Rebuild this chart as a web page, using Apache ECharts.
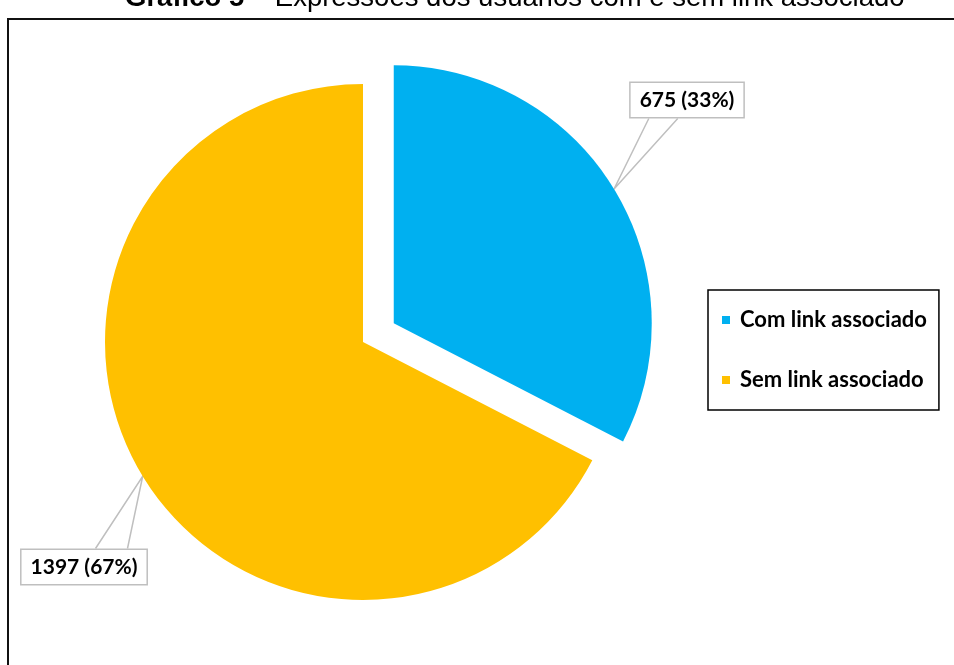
<!DOCTYPE html>
<html><head><meta charset="utf-8">
<script src="https://cdn.jsdelivr.net/npm/echarts@6/dist/echarts.min.js"></script>
<style>html,body{margin:0;padding:0;background:#fff}#c{width:954px;height:665px}</style>
</head><body><div id="c"></div>
<script>
const categories = ['Com link associado', 'Sem link associado'];
const values = [675, 1397];
const colors = ['#00B0F0', '#FFC000'];
const titleBold = 'Gráfico 5';
const titleRest = ' – Expressões dos usuários com e sem link associado';

const chart = echarts.init(document.getElementById('c'));

// layout
const pieCenter = [363, 342];
const explode = 36;          // pixels the first slice is pulled out
const explodedIndex = 0;
const labelCenters = [[687, 100], [84, 567]];
const attach = [{fr: [0.17, 0.42], side: 'bottom'}, {fr: [0.59, 0.84], side: 'top'}];

const total = values.reduce((a, b) => a + b, 0);
let acc = 0;
for (let k = 0; k < explodedIndex; k++) acc += values[k];
const midDeg = 90 - 360 * (acc + values[explodedIndex] / 2) / total;
const midRad = midDeg * Math.PI / 180;
const explodedCenter = [pieCenter[0] + explode * Math.cos(midRad), pieCenter[1] - explode * Math.sin(midRad)];

function makeSeries(center, visibleIndex) {
  return {
    type: 'pie',
    center: center,
    radius: 258,
    startAngle: 90,
    avoidLabelOverlap: false,
    emphasis: {disabled: true},
    silent: true,
    data: categories.map((n, i) => {
      const vis = i === visibleIndex;
      return {
        name: n, value: values[i],
        itemStyle: {color: vis ? colors[i] : 'rgba(0,0,0,0)', borderWidth: 0},
        label: {show: vis},
        labelLine: {show: vis}
      };
    }),
    label: {
      position: 'outside',
      formatter: p => p.value + ' (' + Math.round(p.percent) + '%)',
      fontFamily: 'Lato', fontWeight: 'bold', fontSize: 21, color: '#000',
      backgroundColor: '#fff', borderColor: '#BFBFBF', borderWidth: 1.5,
      padding: [7, 9, 6, 9]
    },
    labelLine: {length: 20, length2: 20, lineStyle: {color: '#BFBFBF', width: 1.5}},
    labelLayout: function (params) {
      const i = params.dataIndex;
      const c = labelCenters[i];
      const w = params.labelRect.width, h = params.labelRect.height;
      const left = c[0] - w / 2;
      const ey = attach[i].side === 'bottom' ? c[1] + h / 2 : c[1] - h / 2;
      const tip = params.labelLinePoints ? params.labelLinePoints[0] : c;
      return {
        x: c[0], y: c[1], align: 'center', verticalAlign: 'middle',
        labelLinePoints: [[left + w * attach[i].fr[0], ey], [tip[0], tip[1]], [left + w * attach[i].fr[1], ey]]
      };
    }
  };
}

chart.setOption({
  animation: false,
  graphic: [{
    type: 'rect', silent: true, z: -1,
    shape: {x: 8, y: 19, width: 1000, height: 700},
    style: {fill: 'none', stroke: '#111', lineWidth: 2}
  }],
  title: {
    text: '{b|' + titleBold + '}' + titleRest,
    left: 125, top: -16, padding: 0,
    textStyle: {
      fontFamily: 'Liberation Sans', fontSize: 27.5, fontWeight: 'normal', color: '#000',
      rich: {b: {fontFamily: 'Liberation Sans', fontSize: 27.5, fontWeight: 'bold', color: '#000'}}
    }
  },
  legend: {
    orient: 'vertical', left: 708, top: 290,
    data: categories.map((n, i) => ({name: n, itemStyle: {color: colors[i]}})),
    icon: 'rect', itemWidth: 8, itemHeight: 8, itemGap: 38,
    padding: [19, 12, 19, 14],
    borderColor: '#000', borderWidth: 1.5,
    selectedMode: false,
    textStyle: {fontFamily: 'Lato', fontWeight: 'bold', fontSize: 22, color: '#000', padding: [0, 0, 0, 5]}
  },
  series: [
    makeSeries(pieCenter, 1),
    makeSeries(explodedCenter, 0)
  ]
});
</script></body></html>
